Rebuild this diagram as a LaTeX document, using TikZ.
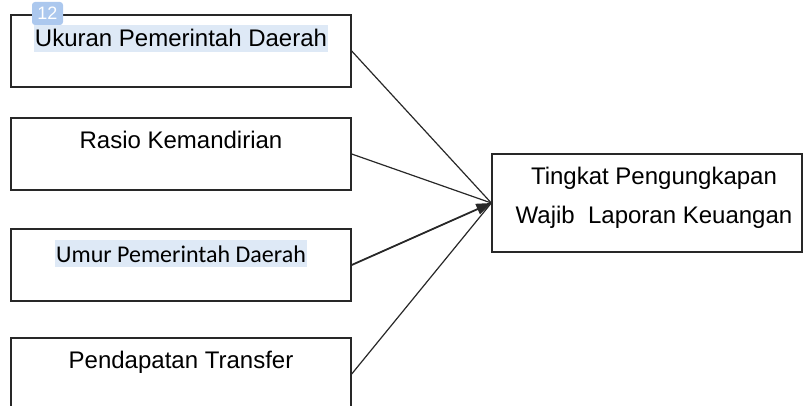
\documentclass[tikz,border=0pt]{standalone}
\usepackage{fontspec}
\setmainfont{Liberation Sans}
\newfontfamily\carlitofont{Carlito}
\usepackage{xcolor}
\definecolor{hilite}{RGB}{222, 233, 246}
\definecolor{badgeblue}{RGB}{172, 200, 238}
\definecolor{edgegray}{RGB}{40, 40, 40}
\usetikzlibrary{arrows.meta, positioning}

\begin{document}
\begin{tikzpicture}[
        x=1pt, y=-1pt,
        varbox/.style={rectangle, draw=edgegray, line width=1.4pt,
                    minimum width=340pt, minimum height=72pt, inner sep=0pt},
        targetbox/.style={rectangle, draw=edgegray, line width=1.4pt,
                    minimum width=310pt, minimum height=98pt, inner sep=0pt},
        vartext/.style={anchor=base, inner sep=0pt, font=\fontsize{24}{28}\selectfont},
        marked/.style={fill=hilite, text height=22pt, text depth=5pt, inner xsep=1pt},
        badge/.style={rectangle, rounded corners=3pt, fill=badgeblue, text=white,
                    minimum width=31pt, minimum height=23pt, inner sep=0pt,
                    font=\fontsize{18}{20}\selectfont},
        link/.style={edgegray, line width=1.2pt}
    ]
        \clip (0,0) rectangle (803,406);
        % independent variables
        \node[varbox] (ukuran) at (181,51) {};
        \node[varbox] (rasio) at (181,154) {};
        \node[varbox] (umur) at (181,265) {};
        \node[varbox] (transfer) at (181,374) {};
        \node[vartext, marked] (ukurantext) at (181,47) {Ukuran Pemerintah Daerah};
        \node[vartext] (rasiotext) at (181,149) {Rasio Kemandirian};
        \node[vartext, marked, font=\carlitofont\fontsize{24}{28}\selectfont] (umurtext) at (181,262) {Umur Pemerintah Daerah};
        \node[vartext] (transfertext) at (181,368) {Pendapatan Transfer};
        \node[badge] (nomor) at (47.5,13.5) {12};
        % dependent variable
        \node[targetbox] (target) at (647,203) {};
        \node[vartext] (targettop) at (654,185) {Tingkat Pengungkapan};
        \node[vartext] (targetbottom) at (654,224) {Wajib\ \ Laporan Keuangan};

        \draw[link] (ukuran.east) -- (target.west);
        \draw[link] (rasio.east) -- (target.west);
        \draw[link, line width=1.8pt, -{Triangle[length=15pt, width=11pt]}] (umur.east) -- (target.west);
        \draw[link] (transfer.east) -- (target.west);
    \end{tikzpicture}
\end{document}
